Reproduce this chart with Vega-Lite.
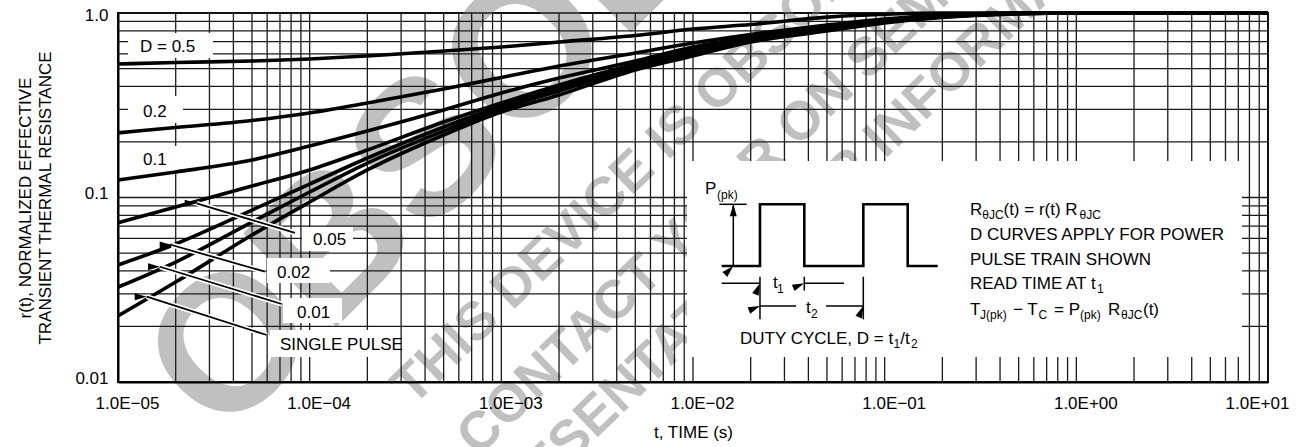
{
  "$schema": "https://vega.github.io/schema/vega-lite/v6.json",
  "width": 1150,
  "height": 369,
  "autosize": {"type": "none"},
  "padding": {"left": 118, "top": 13, "right": 34, "bottom": 65},
  "background": "#ffffff",
  "config": {
    "font": "Liberation Sans",
    "view": {"stroke": "#000000", "strokeWidth": 2},
    "axis": {"labelFont": "Liberation Sans", "titleFont": "Liberation Sans", "labelColor": "#000000", "titleColor": "#000000"}
  },
  "datasets": {
    "curves": [
      {"D": "0.5", "t": 1e-5, "r": 0.529}, {"D": "0.5", "t": 2e-5, "r": 0.539}, {"D": "0.5", "t": 5e-5, "r": 0.549}, {"D": "0.5", "t": 1e-4, "r": 0.563}, {"D": "0.5", "t": 2e-4, "r": 0.585}, {"D": "0.5", "t": 5e-4, "r": 0.622}, {"D": "0.5", "t": 1e-3, "r": 0.654}, {"D": "0.5", "t": 2e-3, "r": 0.697}, {"D": "0.5", "t": 5e-3, "r": 0.755}, {"D": "0.5", "t": 1e-2, "r": 0.819}, {"D": "0.5", "t": 2e-2, "r": 0.866}, {"D": "0.5", "t": 5e-2, "r": 0.95}, {"D": "0.5", "t": 0.1, "r": 0.985}, {"D": "0.5", "t": 0.2, "r": 1.0}, {"D": "0.5", "t": 10, "r": 1.0},
      {"D": "0.2", "t": 1e-5, "r": 0.224}, {"D": "0.2", "t": 2e-5, "r": 0.2395}, {"D": "0.2", "t": 5e-5, "r": 0.2615}, {"D": "0.2", "t": 1e-4, "r": 0.287}, {"D": "0.2", "t": 2e-4, "r": 0.325}, {"D": "0.2", "t": 5e-4, "r": 0.387}, {"D": "0.2", "t": 1e-3, "r": 0.447}, {"D": "0.2", "t": 2e-3, "r": 0.516}, {"D": "0.2", "t": 5e-3, "r": 0.607}, {"D": "0.2", "t": 1e-2, "r": 0.688}, {"D": "0.2", "t": 2e-2, "r": 0.765}, {"D": "0.2", "t": 5e-2, "r": 0.861}, {"D": "0.2", "t": 0.1, "r": 0.928}, {"D": "0.2", "t": 0.2, "r": 0.975}, {"D": "0.2", "t": 0.5, "r": 1.0}, {"D": "0.2", "t": 10, "r": 1.0},
      {"D": "0.1", "t": 1e-5, "r": 0.1244}, {"D": "0.1", "t": 2e-5, "r": 0.1375}, {"D": "0.1", "t": 5e-5, "r": 0.1597}, {"D": "0.1", "t": 1e-4, "r": 0.190}, {"D": "0.1", "t": 2e-4, "r": 0.229}, {"D": "0.1", "t": 5e-4, "r": 0.298}, {"D": "0.1", "t": 1e-3, "r": 0.3685}, {"D": "0.1", "t": 2e-3, "r": 0.444}, {"D": "0.1", "t": 5e-3, "r": 0.549}, {"D": "0.1", "t": 1e-2, "r": 0.654}, {"D": "0.1", "t": 2e-2, "r": 0.741}, {"D": "0.1", "t": 5e-2, "r": 0.840}, {"D": "0.1", "t": 0.1, "r": 0.916}, {"D": "0.1", "t": 0.2, "r": 0.969}, {"D": "0.1", "t": 0.5, "r": 1.0}, {"D": "0.1", "t": 10, "r": 1.0},
      {"D": "0.05", "t": 1e-5, "r": 0.073}, {"D": "0.05", "t": 2e-5, "r": 0.0888}, {"D": "0.05", "t": 5e-5, "r": 0.1154}, {"D": "0.05", "t": 1e-4, "r": 0.141}, {"D": "0.05", "t": 2e-4, "r": 0.181}, {"D": "0.05", "t": 5e-4, "r": 0.2566}, {"D": "0.05", "t": 1e-3, "r": 0.3252}, {"D": "0.05", "t": 2e-3, "r": 0.4072}, {"D": "0.05", "t": 5e-3, "r": 0.529}, {"D": "0.05", "t": 1e-2, "r": 0.630}, {"D": "0.05", "t": 2e-2, "r": 0.723}, {"D": "0.05", "t": 5e-2, "r": 0.829}, {"D": "0.05", "t": 0.1, "r": 0.911}, {"D": "0.05", "t": 0.2, "r": 0.963}, {"D": "0.05", "t": 0.5, "r": 0.994}, {"D": "0.05", "t": 1, "r": 1.0}, {"D": "0.05", "t": 10, "r": 1.0},
      {"D": "0.02", "t": 1e-5, "r": 0.0431}, {"D": "0.02", "t": 2e-5, "r": 0.056}, {"D": "0.02", "t": 5e-5, "r": 0.0855}, {"D": "0.02", "t": 1e-4, "r": 0.1183}, {"D": "0.02", "t": 2e-4, "r": 0.1637}, {"D": "0.02", "t": 5e-4, "r": 0.241}, {"D": "0.02", "t": 1e-3, "r": 0.3133}, {"D": "0.02", "t": 2e-3, "r": 0.3923}, {"D": "0.02", "t": 5e-3, "r": 0.516}, {"D": "0.02", "t": 1e-2, "r": 0.615}, {"D": "0.02", "t": 2e-2, "r": 0.714}, {"D": "0.02", "t": 5e-2, "r": 0.819}, {"D": "0.02", "t": 0.1, "r": 0.905}, {"D": "0.02", "t": 0.2, "r": 0.957}, {"D": "0.02", "t": 0.5, "r": 0.994}, {"D": "0.02", "t": 1, "r": 1.0}, {"D": "0.02", "t": 10, "r": 1.0},
      {"D": "0.01", "t": 1e-5, "r": 0.0327}, {"D": "0.01", "t": 2e-5, "r": 0.0447}, {"D": "0.01", "t": 5e-5, "r": 0.0736}, {"D": "0.01", "t": 1e-4, "r": 0.1071}, {"D": "0.01", "t": 2e-4, "r": 0.1538}, {"D": "0.01", "t": 5e-4, "r": 0.2293}, {"D": "0.01", "t": 1e-3, "r": 0.3018}, {"D": "0.01", "t": 2e-3, "r": 0.3778}, {"D": "0.01", "t": 5e-3, "r": 0.503}, {"D": "0.01", "t": 1e-2, "r": 0.5995}, {"D": "0.01", "t": 2e-2, "r": 0.705}, {"D": "0.01", "t": 5e-2, "r": 0.809}, {"D": "0.01", "t": 0.1, "r": 0.894}, {"D": "0.01", "t": 0.2, "r": 0.951}, {"D": "0.01", "t": 0.5, "r": 0.994}, {"D": "0.01", "t": 1, "r": 1.0}, {"D": "0.01", "t": 10, "r": 1.0},
      {"D": "single", "t": 1e-5, "r": 0.0228}, {"D": "single", "t": 2e-5, "r": 0.0348}, {"D": "single", "t": 5e-5, "r": 0.0626}, {"D": "single", "t": 1e-4, "r": 0.0945}, {"D": "single", "t": 2e-4, "r": 0.141}, {"D": "single", "t": 5e-4, "r": 0.2182}, {"D": "single", "t": 1e-3, "r": 0.2906}, {"D": "single", "t": 2e-3, "r": 0.3594}, {"D": "single", "t": 5e-3, "r": 0.491}, {"D": "single", "t": 1e-2, "r": 0.5847}, {"D": "single", "t": 2e-2, "r": 0.6965}, {"D": "single", "t": 5e-2, "r": 0.799}, {"D": "single", "t": 0.1, "r": 0.883}, {"D": "single", "t": 0.2, "r": 0.945}, {"D": "single", "t": 0.5, "r": 0.988}, {"D": "single", "t": 1, "r": 1.0}, {"D": "single", "t": 10, "r": 1.0}
    ],
    "xgrid": [
      {"v": 1e-5}, {"v": 2e-5}, {"v": 3e-5}, {"v": 4e-5}, {"v": 5e-5}, {"v": 6e-5}, {"v": 7e-5}, {"v": 8e-5}, {"v": 9e-5},
      {"v": 1e-4}, {"v": 2e-4}, {"v": 3e-4}, {"v": 4e-4}, {"v": 5e-4}, {"v": 6e-4}, {"v": 7e-4}, {"v": 8e-4}, {"v": 9e-4},
      {"v": 1e-3}, {"v": 2e-3}, {"v": 3e-3}, {"v": 4e-3}, {"v": 5e-3}, {"v": 6e-3}, {"v": 7e-3}, {"v": 8e-3}, {"v": 9e-3},
      {"v": 1e-2}, {"v": 2e-2}, {"v": 3e-2}, {"v": 4e-2}, {"v": 5e-2}, {"v": 6e-2}, {"v": 7e-2}, {"v": 8e-2}, {"v": 9e-2},
      {"v": 0.1}, {"v": 0.2}, {"v": 0.3}, {"v": 0.4}, {"v": 0.5}, {"v": 0.6}, {"v": 0.7}, {"v": 0.8}, {"v": 0.9},
      {"v": 1}, {"v": 2}, {"v": 3}, {"v": 4}, {"v": 5}, {"v": 6}, {"v": 7}, {"v": 8}, {"v": 9}, {"v": 10}
    ],
    "ygrid": [
      {"v": 0.01}, {"v": 0.02}, {"v": 0.03}, {"v": 0.04}, {"v": 0.05}, {"v": 0.06}, {"v": 0.07}, {"v": 0.08}, {"v": 0.09},
      {"v": 0.1}, {"v": 0.2}, {"v": 0.3}, {"v": 0.4}, {"v": 0.5}, {"v": 0.6}, {"v": 0.7}, {"v": 0.8}, {"v": 0.9}, {"v": 1}
    ],
    "boxes": [
      {"x1": 1.1276e-5, "x2": 3.1303e-5, "y1": 0.7791, "y2": 0.5705},
      {"x1": 1.1276e-5, "x2": 2.1829e-5, "y1": 0.3549, "y2": 0.2534},
      {"x1": 1.1276e-5, "x2": 2.1829e-5, "y1": 0.1901, "y2": 0.1375},
      {"x1": 9.120e-5, "x2": 1.6837e-4, "y1": 0.06921, "y2": 0.05129},
      {"x1": 5.991e-5, "x2": 1.2767e-4, "y1": 0.04699, "y2": 0.03440},
      {"x1": 7.260e-5, "x2": 1.4748e-4, "y1": 0.02852, "y2": 0.02088},
      {"x1": 6.209e-5, "x2": 2.9600e-4, "y1": 0.01913, "y2": 0.01366},
      {"x1": 0.009302, "x2": 7.316, "y1": 0.1577, "y2": 0.01366}
    ],
    "arrows": [
      {"x1": 8.384e-5, "y1": 0.06422, "x2": 2.5738e-5, "y2": 0.09303},
      {"x1": 5.847e-5, "y1": 0.03961, "x2": 1.906e-5, "y2": 0.05528},
      {"x1": 7.147e-5, "y1": 0.02647, "x2": 1.6561e-5, "y2": 0.04214},
      {"x1": 5.968e-5, "y1": 0.01798, "x2": 1.4114e-5, "y2": 0.02900}
    ],
    "ilines": [
      {"x1": 0.01372, "y1": 0.09186, "x2": 0.01906, "y2": 0.09186},
      {"x1": 0.01623, "y1": 0.09186, "x2": 0.01623, "y2": 0.04253},
      {"x1": 0.01411, "y1": 0.03428, "x2": 0.02236, "y2": 0.03428},
      {"x1": 0.03808, "y1": 0.03428, "x2": 0.06135, "y2": 0.03428},
      {"x1": 0.02236, "y1": 0.02582, "x2": 0.03447, "y2": 0.02582},
      {"x1": 0.04941, "y1": 0.02582, "x2": 0.07737, "y2": 0.02582},
      {"x1": 0.02236, "y1": 0.03721, "x2": 0.02236, "y2": 0.02186},
      {"x1": 0.03808, "y1": 0.03721, "x2": 0.03808, "y2": 0.03125},
      {"x1": 0.07737, "y1": 0.03721, "x2": 0.07737, "y2": 0.02186}
    ],
    "heads": [
      {"x": 0.01623, "y": 0.09186, "dir": "up"},
      {"x": 0.01623, "y": 0.04253, "dir": "down"},
      {"x": 0.02236, "y": 0.03428, "dir": "right"},
      {"x": 0.03808, "y": 0.03428, "dir": "left"},
      {"x": 0.02236, "y": 0.02582, "dir": "left"},
      {"x": 0.07737, "y": 0.02582, "dir": "right"},
      {"x": 2.5738e-5, "y": 0.09303, "dir": "diag"},
      {"x": 1.906e-5, "y": 0.05528, "dir": "diag"},
      {"x": 1.6561e-5, "y": 0.04214, "dir": "diag"},
      {"x": 1.4114e-5, "y": 0.02900, "dir": "diag"}
    ],
    "pulse": [
      {"seq": 1, "x": 0.01411, "y": 0.04253}, {"seq": 2, "x": 0.02236, "y": 0.04253}, {"seq": 3, "x": 0.02236, "y": 0.09186}, {"seq": 4, "x": 0.03808, "y": 0.09186}, {"seq": 5, "x": 0.03808, "y": 0.04253},
      {"seq": 6, "x": 0.07737, "y": 0.04253}, {"seq": 7, "x": 0.07737, "y": 0.09186}, {"seq": 8, "x": 0.1319, "y": 0.09186}, {"seq": 9, "x": 0.1319, "y": 0.04253}, {"seq": 10, "x": 0.1891, "y": 0.04253}
    ],
    "txt": [
      {"x": 1.3022e-5, "y": 0.6146, "label": "D = 0.5"},
      {"x": 1.3498e-5, "y": 0.2731, "label": "0.2"},
      {"x": 1.3498e-5, "y": 0.1500, "label": "0.1"},
      {"x": 1.0409e-4, "y": 0.05528, "label": "0.05"},
      {"x": 6.755e-5, "y": 0.03662, "label": "0.02"},
      {"x": 8.590e-5, "y": 0.02222, "label": "0.01"},
      {"x": 7.003e-5, "y": 0.01491, "label": "SINGLE PULSE"},
      {"x": 0.011548, "y": 0.10447, "label": "P"},
      {"x": 0.026150, "y": 0.03232, "label": "t"},
      {"x": 0.038862, "y": 0.02366, "label": "t"},
      {"x": 0.017584, "y": 0.01607, "label": "DUTY CYCLE, D = t"},
      {"x": 0.12049, "y": 0.01607, "label": "/t"},
      {"x": 0.27871, "y": 0.08038, "label": "R"},
      {"x": 0.41677, "y": 0.08038, "label": "(t) = r(t) R"},
      {"x": 0.27871, "y": 0.05885, "label": "D CURVES APPLY FOR POWER"},
      {"x": 0.27871, "y": 0.04306, "label": "PULSE TRAIN SHOWN"},
      {"x": 0.27871, "y": 0.03192, "label": "READ TIME AT t"},
      {"x": 0.27871, "y": 0.02307, "label": "T"},
      {"x": 0.46717, "y": 0.02307, "label": "− T"},
      {"x": 0.76468, "y": 0.02307, "label": "= P"},
      {"x": 1.4626, "y": 0.02307, "label": "R"},
      {"x": 2.2272, "y": 0.02307, "label": "(t)"}
    ],
    "sub": [
      {"x": 0.013339, "y": 0.09815, "label": "(pk)"},
      {"x": 0.027430, "y": 0.03036, "label": "1"},
      {"x": 0.041254, "y": 0.02222, "label": "2"},
      {"x": 0.11117, "y": 0.01529, "label": "1"},
      {"x": 0.13716, "y": 0.01529, "label": "2"},
      {"x": 0.32305, "y": 0.07647, "label": "θJC"},
      {"x": 1.0385, "y": 0.07647, "label": "θJC"},
      {"x": 1.2817, "y": 0.03036, "label": "1"},
      {"x": 0.31429, "y": 0.02195, "label": "J(pk)"},
      {"x": 0.63480, "y": 0.02195, "label": "C"},
      {"x": 1.0448, "y": 0.02195, "label": "(pk)"},
      {"x": 1.7100, "y": 0.02195, "label": "θJC"}
    ],
    "wmBig": [
      {"x": 3.488e-5, "y": 0.004753, "label": "OBSOLETE"}
    ],
    "wmLines": [
      {"x": 3.459e-4, "y": 0.007319, "label": "THIS DEVICE IS OBSOLETE"},
      {"x": 7.553e-4, "y": 0.003902, "label": "CONTACT YOUR ON SEMICONDUCTOR"},
      {"x": 4.534e-4, "y": 7.112e-4, "label": "REPRESENTATIVE FOR INFORMATION"}
    ]
  },
  "layer": [
    {
      "data": {"name": "wmBig"},
      "mark": {"type": "text", "font": "Liberation Sans", "fontWeight": "bold", "fontSize": 192, "angle": 315, "align": "left", "baseline": "alphabetic", "fill": "#c0c0c0"},
      "encoding": {
        "x": {"field": "x", "type": "quantitative", "scale": {"type": "log", "domain": [0.00001, 10], "nice": false}},
        "y": {"field": "y", "type": "quantitative", "scale": {"type": "log", "domain": [0.01, 1], "nice": false}},
        "text": {"field": "label"}
      }
    },
    {
      "data": {"name": "wmLines"},
      "mark": {"type": "text", "font": "Liberation Sans", "fontWeight": "bold", "fontSize": 54, "angle": 316, "align": "left", "baseline": "alphabetic", "fill": "#c0c0c0"},
      "encoding": {
        "x": {"field": "x", "type": "quantitative", "scale": {"type": "log", "domain": [0.00001, 10], "nice": false}},
        "y": {"field": "y", "type": "quantitative", "scale": {"type": "log", "domain": [0.01, 1], "nice": false}},
        "text": {"field": "label"}
      }
    },
    {
      "data": {"name": "xgrid"},
      "mark": {"type": "rule", "stroke": "#1a1a1a", "strokeWidth": 1.3},
      "encoding": {
        "x": {"field": "v", "type": "quantitative", "scale": {"type": "log", "domain": [0.00001, 10], "nice": false}}
      }
    },
    {
      "data": {"name": "ygrid"},
      "mark": {"type": "rule", "stroke": "#1a1a1a", "strokeWidth": 1.3},
      "encoding": {
        "y": {"field": "v", "type": "quantitative", "scale": {"type": "log", "domain": [0.01, 1], "nice": false}}
      }
    },
    {
      "data": {"name": "boxes"},
      "mark": {"type": "rect", "fill": "#ffffff", "stroke": null},
      "encoding": {
        "x": {"field": "x1", "type": "quantitative", "scale": {"type": "log", "domain": [0.00001, 10], "nice": false}},
        "x2": {"field": "x2"},
        "y": {"field": "y1", "type": "quantitative", "scale": {"type": "log", "domain": [0.01, 1], "nice": false}},
        "y2": {"field": "y2"}
      }
    },
    {
      "data": {"name": "curves"},
      "mark": {"type": "line", "stroke": "#000000", "strokeWidth": 3.6, "interpolate": "monotone"},
      "encoding": {
        "x": {
          "field": "t", "type": "quantitative",
          "scale": {"type": "log", "domain": [0.00001, 10], "nice": false},
          "axis": {
            "values": [0.00001, 0.0001, 0.001, 0.01, 0.1, 1, 10],
            "labelExpr": "datum.value < 0.00005 ? '1.0E−05' : datum.value < 0.0005 ? '1.0E−04' : datum.value < 0.005 ? '1.0E−03' : datum.value < 0.05 ? '1.0E−02' : datum.value < 0.5 ? '1.0E−01' : datum.value < 5 ? '1.0E+00' : '1.0E+01'",
            "title": "t, TIME (s)",
            "grid": false, "ticks": false, "tickSize": 0, "zindex": 1,
            "domain": true, "domainColor": "#000000", "domainWidth": 2,
            "labelFontSize": 17, "labelBaseline": "alphabetic", "labelPadding": 26,
            "labelOffset": {"condition": {"test": "datum.value > 5", "value": -11}, "value": 9},
            "labelFlush": false, "labelOverlap": false, "labelBound": false,
            "titleFontSize": 17, "titleFontWeight": "normal", "titleY": 55, "titleBaseline": "alphabetic", "titlePadding": 0
          }
        },
        "y": {
          "field": "r", "type": "quantitative",
          "scale": {"type": "log", "domain": [0.01, 1], "nice": false},
          "axis": {
            "values": [0.01, 0.1, 1],
            "labelExpr": "datum.value < 0.05 ? '0.01' : datum.value < 0.5 ? '0.1' : '1.0'",
            "title": ["r(t), NORMALIZED EFFECTIVE", "TRANSIENT THERMAL RESISTANCE"],
            "grid": false, "ticks": false, "tickSize": 0, "zindex": 1,
            "domain": true, "domainColor": "#000000", "domainWidth": 2,
            "labelFontSize": 17, "labelPadding": 10, "labelBaseline": "middle",
            "labelOffset": {"condition": {"test": "datum.value > 0.5", "value": 2}, "value": -4},
            "labelFlush": false, "labelOverlap": false,
            "titleFontSize": 17, "titleFontWeight": "normal", "titleAngle": 270,
            "titleX": -88, "titleY": 184.5, "titleAlign": "center", "titleBaseline": "alphabetic", "titleLineHeight": 20
          }
        },
        "detail": {"field": "D"}
      }
    },
    {
      "data": {"name": "arrows"},
      "mark": {"type": "rule", "stroke": "#ffffff", "strokeWidth": 5},
      "encoding": {
        "x": {"field": "x1", "type": "quantitative", "scale": {"type": "log", "domain": [0.00001, 10], "nice": false}},
        "y": {"field": "y1", "type": "quantitative", "scale": {"type": "log", "domain": [0.01, 1], "nice": false}},
        "x2": {"field": "x2"},
        "y2": {"field": "y2"}
      }
    },
    {
      "data": {"name": "arrows"},
      "mark": {"type": "rule", "stroke": "#000000", "strokeWidth": 1.8},
      "encoding": {
        "x": {"field": "x1", "type": "quantitative", "scale": {"type": "log", "domain": [0.00001, 10], "nice": false}},
        "y": {"field": "y1", "type": "quantitative", "scale": {"type": "log", "domain": [0.01, 1], "nice": false}},
        "x2": {"field": "x2"},
        "y2": {"field": "y2"}
      }
    },
    {
      "data": {"name": "ilines"},
      "mark": {"type": "rule", "stroke": "#000000", "strokeWidth": 1.5},
      "encoding": {
        "x": {"field": "x1", "type": "quantitative", "scale": {"type": "log", "domain": [0.00001, 10], "nice": false}},
        "y": {"field": "y1", "type": "quantitative", "scale": {"type": "log", "domain": [0.01, 1], "nice": false}},
        "x2": {"field": "x2"},
        "y2": {"field": "y2"}
      }
    },
    {
      "data": {"name": "heads"},
      "mark": {"type": "point", "shape": "M0,0 L0.58,2 L-0.58,2 Z", "filled": true, "fill": "#000000", "stroke": null, "opacity": 1, "size": 144},
      "encoding": {
        "x": {"field": "x", "type": "quantitative", "scale": {"type": "log", "domain": [0.00001, 10], "nice": false}},
        "y": {"field": "y", "type": "quantitative", "scale": {"type": "log", "domain": [0.01, 1], "nice": false}},
        "angle": {"field": "dir", "type": "ordinal", "scale": {"domain": ["up", "right", "down", "left", "diag"], "range": [0, 90, 180, 270, 287]}, "legend": null}
      }
    },
    {
      "data": {"name": "pulse"},
      "mark": {"type": "line", "stroke": "#000000", "strokeWidth": 2.6, "interpolate": "linear"},
      "encoding": {
        "x": {"field": "x", "type": "quantitative", "scale": {"type": "log", "domain": [0.00001, 10], "nice": false}},
        "y": {"field": "y", "type": "quantitative", "scale": {"type": "log", "domain": [0.01, 1], "nice": false}},
        "order": {"field": "seq", "type": "quantitative"}
      }
    },
    {
      "data": {"name": "txt"},
      "mark": {"type": "text", "font": "Liberation Sans", "fontSize": 17, "align": "left", "baseline": "alphabetic", "fill": "#000000"},
      "encoding": {
        "x": {"field": "x", "type": "quantitative", "scale": {"type": "log", "domain": [0.00001, 10], "nice": false}},
        "y": {"field": "y", "type": "quantitative", "scale": {"type": "log", "domain": [0.01, 1], "nice": false}},
        "text": {"field": "label"}
      }
    },
    {
      "data": {"name": "sub"},
      "mark": {"type": "text", "font": "Liberation Sans", "fontSize": 12, "align": "left", "baseline": "alphabetic", "fill": "#000000"},
      "encoding": {
        "x": {"field": "x", "type": "quantitative", "scale": {"type": "log", "domain": [0.00001, 10], "nice": false}},
        "y": {"field": "y", "type": "quantitative", "scale": {"type": "log", "domain": [0.01, 1], "nice": false}},
        "text": {"field": "label"}
      }
    }
  ]
}
